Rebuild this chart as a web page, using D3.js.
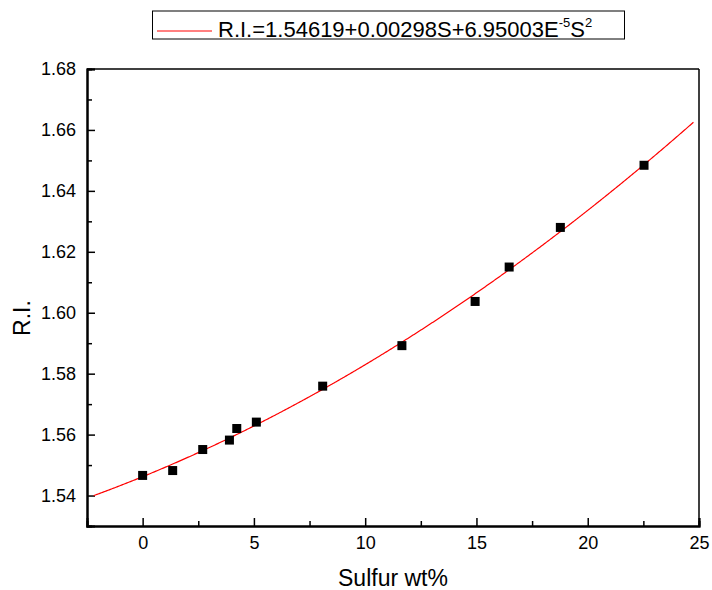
<!DOCTYPE html>
<html><head><meta charset="utf-8">
<script src="https://cdn.jsdelivr.net/npm/d3@7"></script>
<style>body{margin:0;background:#fff}svg{display:block}text{font-family:Arial,"Liberation Sans",sans-serif;fill:#000}</style>
</head><body><svg id="c" width="712" height="590"></svg>
<script>
// Data
const sulfur = [0, 1.35, 2.7, 3.9, 4.23, 5.11, 8.09, 11.65, 14.94, 16.47, 18.77, 22.53];
const ri     = [1.5466, 1.5482, 1.5551, 1.5582, 1.5620, 1.5641, 1.5759, 1.5892, 1.6037, 1.6150, 1.6280, 1.6484];
const fitCoef = [1.54619, 0.00298, 6.95003e-5];   // R.I. = a + bS + cS^2 (from legend)
const fitRange = [-2.2, 24.75];
const xTicks = [0, 5, 10, 15, 20, 25];
const xMinor = [2.5, 7.5, 12.5, 17.5, 22.5];
const yTicks = [1.54, 1.56, 1.58, 1.60, 1.62, 1.64, 1.66, 1.68];
const yMinor = [1.55, 1.57, 1.59, 1.61, 1.63, 1.65, 1.67];

const svg = d3.select("#c");
const L = 87, R = 699, T = 69, B = 526;
const x = d3.scaleLinear().domain([-2.5, 25]).range([L, R]);
const y = d3.scaleLinear().domain([1.53, 1.68]).range([B, T]);

// frame
svg.append("line").attr("x1", L).attr("x2", R).attr("y1", T).attr("y2", T).attr("stroke", "#000").attr("stroke-width", 1.5);
svg.append("line").attr("x1", R).attr("x2", R).attr("y1", T).attr("y2", B).attr("stroke", "#000").attr("stroke-width", 1.5);

// axes (ticks inward)
const xAxis = svg.append("g").attr("transform", `translate(0,${B})`)
  .call(d3.axisBottom(x).tickValues(xTicks).tickSize(-8).tickPadding(10).tickFormat(d3.format("d")));
const xAxisMinor = svg.append("g").attr("transform", `translate(0,${B})`)
  .call(d3.axisBottom(x).tickValues(xMinor).tickSize(-5).tickFormat(""));
const yAxis = svg.append("g").attr("transform", `translate(${L},0)`)
  .call(d3.axisLeft(y).tickValues(yTicks).tickSize(-8).tickPadding(11).tickFormat(d3.format(".2f")));
const yAxisMinor = svg.append("g").attr("transform", `translate(${L},0)`)
  .call(d3.axisLeft(y).tickValues(yMinor).tickSize(-5).tickFormat(""));
[xAxis, xAxisMinor, yAxis, yAxisMinor].forEach(g => {
  g.select(".domain").attr("stroke", "#000").attr("stroke-width", 2);
  g.selectAll(".tick line").attr("stroke", "#000").attr("stroke-width", 1.5);
  g.selectAll(".tick text").attr("font-size", 18).attr("font-family", "Arial, 'Liberation Sans', sans-serif").attr("fill", "#000");
});

// fit curve
const fitX = d3.range(fitRange[0], fitRange[1] + 1e-9, 0.05);
const fitFn = s => fitCoef[0] + fitCoef[1] * s + fitCoef[2] * s * s;
svg.append("path").datum(fitX)
  .attr("d", d3.line().x(d => x(d)).y(d => y(fitFn(d))))
  .attr("fill", "none").attr("stroke", "#ff0000").attr("stroke-width", 1.2);

// points
const ms = 9;
svg.append("g").selectAll("rect").data(sulfur.map((s, i) => [s, ri[i]])).join("rect")
  .attr("x", d => x(d[0]) - ms / 2).attr("y", d => y(d[1]) - ms / 2)
  .attr("width", ms).attr("height", ms).attr("fill", "#000");

// axis titles
svg.append("text").attr("x", (L + R) / 2).attr("y", 586).attr("text-anchor", "middle").attr("font-size", 23).text("Sulfur wt%");
svg.append("text").attr("transform", "translate(30,318) rotate(-90)").attr("text-anchor", "middle").attr("font-size", 23).text("R.I.");

// legend
const lg = svg.append("g");
lg.append("rect").attr("x", 152.5).attr("y", 11).attr("width", 472).attr("height", 28).attr("fill", "#fff").attr("stroke", "#000").attr("stroke-width", 1);
lg.append("line").attr("x1", 157).attr("x2", 212).attr("y1", 31).attr("y2", 31).attr("stroke", "#ff0000").attr("stroke-width", 1.2);
const lt = lg.append("text").attr("x", 218).attr("y", 37).attr("font-size", 22);
lt.append("tspan").text("R.I.=1.54619+0.00298S+6.95003E");
lt.append("tspan").attr("font-size", 13).attr("dy", -10).text("-5");
lt.append("tspan").attr("dy", 10).text("S");
lt.append("tspan").attr("font-size", 13).attr("dy", -10).text("2");
</script></body></html>
